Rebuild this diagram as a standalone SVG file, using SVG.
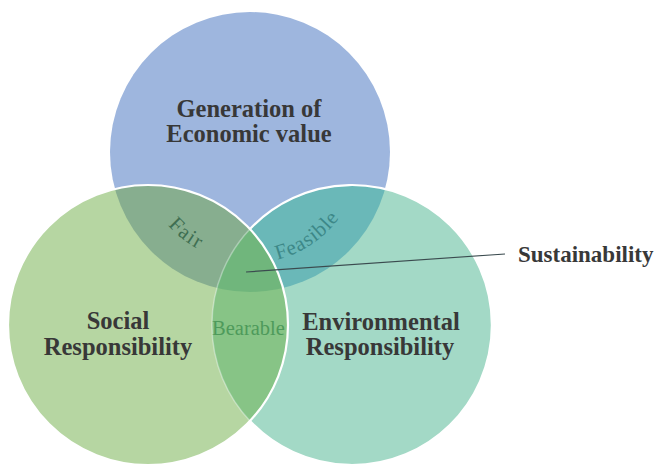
<svg xmlns="http://www.w3.org/2000/svg" width="656" height="464" viewBox="0 0 656 464">
<style>
.lbl{font-family:"Liberation Serif","Times New Roman",serif;font-weight:bold;font-size:24.5px;fill:#383838;text-anchor:middle}
.sm{font-family:"Liberation Serif","Times New Roman",serif;font-size:21px}
</style>
<defs>
<clipPath id="cBlue"><circle cx="250" cy="152" r="140"/></clipPath>
<clipPath id="cGreen"><circle cx="148" cy="325" r="140"/></clipPath>
<path id="arcFair" d="M140.42,161.59 A110,110 0 0 0 240.41,261.59"/>
<path id="arcFeas" d="M230.73,261.31 A111,111 0 0 0 359.31,171.27"/>
</defs>
<rect width="656" height="464" fill="#ffffff"/>
<g id="economic">
<circle cx="250" cy="152" r="140" fill="#9eb6de"/>
</g>
<g id="social">
<circle cx="148" cy="325" r="140" fill="#b6d6a2"/>
</g>
<g id="environmental">
<circle cx="352" cy="325" r="140" fill="#a3d9c6"/>
</g>
<g id="overlaps">
<g clip-path="url(#cBlue)"><circle cx="148" cy="325" r="140" fill="#87ae8f"/></g>
<g clip-path="url(#cBlue)"><circle cx="352" cy="325" r="140" fill="#6ab8b8"/></g>
<g clip-path="url(#cGreen)"><circle cx="352" cy="325" r="140" fill="#87c486"/></g>
<g clip-path="url(#cBlue)"><g clip-path="url(#cGreen)"><circle cx="352" cy="325" r="140" fill="#70b67c"/></g></g>
</g>
<g id="outlines" fill="none" stroke-width="2.2">
<path d="M250,229 A140,140 0 1 1 250,421" stroke="#ffffff"/>
<path d="M250,421 A140,140 0 0 1 250,229" stroke="#ffffff" stroke-opacity="0.35" stroke-width="1.5"/>
<circle cx="148" cy="325" r="140" stroke="#ffffff"/>
</g>
<g id="connectors">
<line x1="246" y1="272" x2="505" y2="254" stroke="#3b4b4f" stroke-width="1.2"/>
</g>
<g id="label-economic">
<text class="lbl" x="249" y="117">Generation of</text>
<text class="lbl" x="249" y="142">Economic value</text>
</g>
<g id="label-social">
<text class="lbl" x="118" y="329">Social</text>
<text class="lbl" x="118" y="355">Responsibility</text>
</g>
<g id="label-environmental">
<text class="lbl" x="381" y="330">Environmental</text>
<text class="lbl" x="380" y="355">Responsibility</text>
</g>
<g id="label-fair">
<text class="sm" fill="#3f6f52" letter-spacing="1.5"><textPath href="#arcFair" startOffset="90.2" text-anchor="middle">Fair</textPath></text>
</g>
<g id="label-feasible">
<text class="sm" fill="#3d8888" letter-spacing="0.8"><textPath href="#arcFeas" startOffset="85.2" text-anchor="middle">Feasible</textPath></text>
</g>
<g id="label-bearable">
<text class="sm" x="248.5" y="335" fill="#4e9a5b" text-anchor="middle" style="font-size:20.5px">Bearable</text>
</g>
<g id="sustainability">
<text x="518" y="262" style="font-family:'Liberation Serif','Times New Roman',serif;font-weight:bold;font-size:23px;fill:#383838">Sustainability</text>
</g>
</svg>
